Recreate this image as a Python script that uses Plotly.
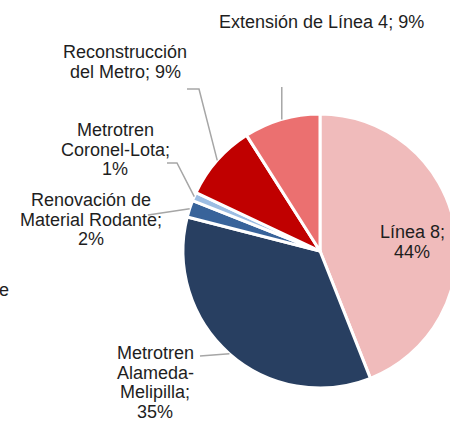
import math
import plotly.graph_objects as go

# ---- data ----
labels = ["Línea 8", "Metrotren Alameda-Melipilla", "Renovación de Material Rodante",
          "Metrotren Coronel-Lota", "Reconstrucción del Metro", "Extensión de Línea 4"]
values = [44, 35, 2, 1, 9, 9]
label_lines = [
    ["Línea 8;", "44%"],
    ["Metrotren", "Alameda-", "Melipilla;", "35%"],
    ["Renovación de", "Material Rodante;", "2%"],
    ["Metrotren", "Coronel-Lota;", "1%"],
    ["Reconstrucción", "del Metro; 9%"],
    ["Extensión de Línea 4; 9%"],
]
colors = ["#F0BBBB", "#283F61", "#38639A", "#9CBDE3", "#C00000", "#EB7070"]

# ---- layout geometry (pixels); canvas slightly wider than the window so the pie is clipped on the right ----
W, H = 460, 421
CX, CY, R = 320, 251, 137
FONT = 18
LS = 19.7  # line spacing px

# label centre x, first-line y, leader path (pixel points before the slice edge)
label_pos = [
    (412, 232, None),
    (155, 353, [(200, 356)]),
    (91, 200, [(148, 215)]),
    (115, 130, [(167, 163), (177, 163)]),
    (125, 52, [(187, 89), (199, 89)]),
    (321, 22, "vertical"),
]


def px(x):
    return x / W


def py(y):
    return 1 - y / H


fig = go.Figure(go.Pie(
    labels=labels, values=values, sort=False, direction="clockwise", rotation=0,
    marker=dict(colors=colors, line=dict(color="white", width=3)),
    textinfo="none", hoverinfo="label+percent", showlegend=False,
    domain=dict(x=[(CX - R) / W, (CX + R) / W], y=[py(CY + R), py(CY - R)]),
))

total = sum(values)
cum = 0
annotations = []
shapes = []
for i, v in enumerate(values):
    mid = (cum + v / 2) / total * 2 * math.pi
    cum += v
    ex = CX + R * math.sin(mid)
    ey = CY - R * math.cos(mid)
    lx, ly, leader = label_pos[i]
    for k, t in enumerate(label_lines[i]):
        annotations.append(dict(
            x=px(lx), y=py(ly + k * LS), xref="paper", yref="paper",
            text=t, showarrow=False, xanchor="center", yanchor="middle",
            font=dict(family="Arial, Liberation Sans, sans-serif", size=FONT, color="#1E1E1E"),
        ))
    if leader is None:
        continue
    if leader == "vertical":
        pts = [(ex, 87), (ex, ey)]
    else:
        pts = list(leader) + [(ex, ey)]
    path = "M " + " L ".join(f"{px(a):.5f},{py(b):.5f}" for a, b in pts)
    shapes.append(dict(type="path", path=path, xref="paper", yref="paper",
                       line=dict(color="#A6A6A6", width=1.5)))

# partially visible text at left edge
annotations.append(dict(
    x=px(11), y=py(290), xref="paper", yref="paper", text="e", showarrow=False,
    xanchor="right", yanchor="middle",
    font=dict(family="Arial, Liberation Sans, sans-serif", size=FONT, color="#1E1E1E"),
))

fig.update_layout(
    width=W, height=H, margin=dict(l=0, r=0, t=0, b=0),
    paper_bgcolor="white", plot_bgcolor="white",
    annotations=annotations, shapes=shapes,
)
fig.write_html("out.html", config={"displayModeBar": False},
               post_script="document.body.style.margin='0';document.body.style.overflow='hidden';")
